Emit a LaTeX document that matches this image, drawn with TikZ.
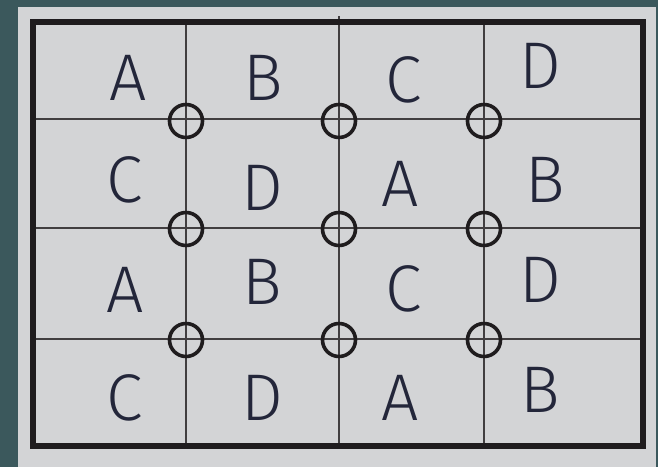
\documentclass[tikz,border=0pt]{standalone}
\usepackage{fontspec}
\newfontfamily\handfont{Fira Sans}[UprightFont=* Light]
\usetikzlibrary{positioning}
\definecolor{slate}{HTML}{3B585C}
\definecolor{panel}{HTML}{D3D4D6}
\definecolor{ink}{HTML}{1F1C1E}
\definecolor{letter}{HTML}{23263A}
\tikzset{
  gridline/.style={draw=ink!85, line width=1.8pt},
  frame/.style={draw=ink, line width=6pt},
  hub/.style={circle, draw=ink, line width=3.6pt, minimum size=33pt, inner sep=0pt},
  tag/.style={font=\handfont\fontsize{66}{66}\selectfont, text=letter, inner sep=0pt}
}

\begin{document}
\begin{tikzpicture}[x=1pt, y=-1pt]
  % background and panel
  \fill[slate] (0,0) rectangle (658,467);
  \useasboundingbox (0,0) rectangle (658,467);
  \fill[panel] (18,7) rectangle (656,467);

  % grid corners
  \coordinate (nw) at (33,22);
  \coordinate (se) at (643,446);

  % grid lines
  \draw[gridline] (186,22) -- (186,446);
  \draw[gridline] (339,16) -- (339,446);
  \draw[gridline] (484,22) -- (484,446);
  \draw[gridline] (33,119) -- (643,119);
  \draw[gridline] (33,228) -- (643,228);
  \draw[gridline] (33,339) -- (643,339);
  \draw[frame] (nw) rectangle (se);

  % joints
  \foreach \x [count=\i] in {186,339,484}
    \foreach \y [count=\j] in {121,229,340}
      \node[hub] (hub\i\j) at (\x,\y) {};

  % letters
  \node[tag] (a1) at (128,78) {A};
  \node[tag] (b1) at (263,78) {B};
  \node[tag] (c1) at (404,80) {C};
  \node[tag] (d1) at (540,66) {D};
  \node[tag] (c2) at (125,180) {C};
  \node[tag] (d2) at (262,188) {D};
  \node[tag] (a2) at (400,184) {A};
  \node[tag] (b2) at (545,180) {B};
  \node[tag] (a3) at (125,290) {A};
  \node[tag] (b3) at (262,282) {B};
  \node[tag] (c3) at (404,289) {C};
  \node[tag] (d3) at (540,280) {D};
  \node[tag] (c4) at (125,398) {C};
  \node[tag] (d4) at (262,398) {D};
  \node[tag] (a4) at (400,398) {A};
  \node[tag] (b4) at (540,390) {B};
\end{tikzpicture}
\end{document}
